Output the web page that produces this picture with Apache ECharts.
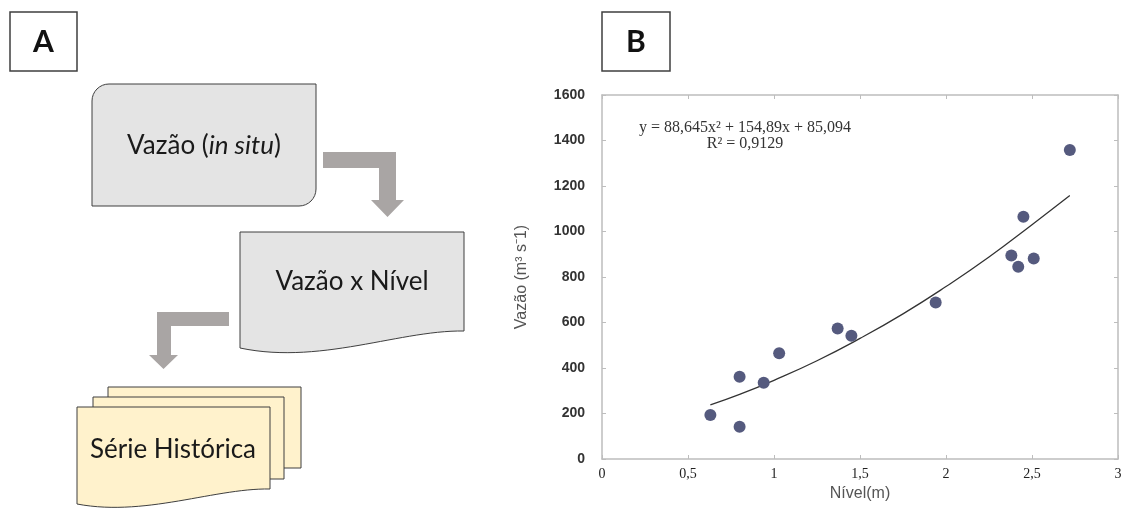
<!DOCTYPE html>
<html>
<head>
<meta charset="utf-8" />
<script src="https://cdn.jsdelivr.net/npm/echarts/dist/echarts.min.js"></script>
<style>
  html, body { margin: 0; padding: 0; background: #fff; }
  #chart { width: 1130px; height: 509px; }
</style>
</head>
<body>
<div id="chart"></div>
<script>
// pontos medidos (nivel x vazao)
const nivel = [0.63, 0.8, 0.8, 0.94, 1.03, 1.37, 1.45, 1.94, 2.38, 2.42, 2.45, 2.51, 2.72];
const vazao = [193, 142, 362, 335, 465, 574, 542, 688, 895, 845, 1065, 881, 1358];

// curva de tendencia
const trendX = [0.63, 0.8, 1.0, 1.25, 1.5, 1.75, 2.0, 2.25, 2.5, 2.72];
const trendY = [238, 284, 346, 432, 530, 638, 758, 888, 1030, 1158];

// rotulos dos eixos
const xTicks = [0, 0.5, 1, 1.5, 2, 2.5, 3];
const xTickLabels = ["0", "0,5", "1", "1,5", "2", "2,5", "3"];
const yTickLabels = ["0", "200", "400", "600", "800", "1000", "1200", "1400", "1600"];

const eqLines = ["y = 88,645x² + 154,89x + 85,094", "R² = 0,9129"];

const chart = echarts.init(document.getElementById("chart"));

const scatterData = nivel.map((x, i) => [x, vazao[i]]);
const trendData = trendX.map((x, i) => [x, trendY[i]]);

const boxStroke = "#3f3f3f";
const arrowColor = "#a9a5a4";
const uiFont = "Lato, 'Open Sans', sans-serif";
const serif = "'Liberation Serif', 'Times New Roman', serif";
const axisGray = "#bdbdbd";

// forma de "documento": retangulo com base ondulada (bezier cubica amostrada)
const docShape = (x0, y0, x1, yRight, c1, c2, yLeft) => {
  const pts = [[x0, y0], [x1, y0], [x1, yRight]];
  const p0 = [x1, yRight], p3 = [x0, yLeft];
  for (let k = 1; k <= 30; k++) {
    const t = k / 30, u = 1 - t;
    pts.push([
      u * u * u * p0[0] + 3 * u * u * t * c1[0] + 3 * u * t * t * c2[0] + t * t * t * p3[0],
      u * u * u * p0[1] + 3 * u * u * t * c1[1] + 3 * u * t * t * c2[1] + t * t * t * p3[1],
    ]);
  }
  return pts;
};

const frameAxis = {
  axisLine: { show: true, onZero: false, lineStyle: { color: axisGray, width: 1.5 } },
  axisTick: { show: true, inside: true, length: 4, lineStyle: { color: axisGray } },
  splitLine: { show: false },
};

let option = {
  animation: false,
  backgroundColor: "#fff",
  grid: { left: 602, top: 95, width: 516, height: 364 },
  xAxis: [
    {
      type: "value",
      min: 0,
      max: 3,
      interval: 0.5,
      name: "Nível(m)",
      nameLocation: "middle",
      nameGap: 27,
      nameTextStyle: { fontFamily: "'Liberation Sans', Arial", fontSize: 16, color: "#555" },
      ...frameAxis,
      axisLabel: {
        margin: 8,
        fontFamily: serif,
        fontSize: 14,
        color: "#222",
        formatter: (v) => xTickLabels[xTicks.indexOf(v)] ?? "",
      },
    },
    {
      type: "value",
      position: "top",
      min: 0,
      max: 3,
      interval: 0.5,
      ...frameAxis,
      axisLabel: { show: false },
    },
  ],
  yAxis: [
    {
      type: "value",
      min: 0,
      max: 1600,
      interval: 200,
      name: "Vazão (m³ s⁻1)",
      nameLocation: "middle",
      nameGap: 72,
      nameTextStyle: { fontFamily: "'Liberation Sans', Arial", fontSize: 16, color: "#555" },
      ...frameAxis,
      axisLabel: {
        margin: 17,
        fontFamily: "'Liberation Sans', Arial",
        fontSize: 14,
        fontWeight: "bold",
        color: "#333",
        formatter: (v) => yTickLabels[v / 200] ?? "",
      },
    },
    {
      type: "value",
      position: "right",
      min: 0,
      max: 1600,
      interval: 200,
      ...frameAxis,
      axisLabel: { show: false },
    },
  ],
  series: [
    {
      name: "tendencia",
      type: "line",
      data: trendData,
      smooth: true,
      showSymbol: false,
      lineStyle: { color: "#333", width: 1.3 },
      z: 2,
    },
    {
      name: "medidas",
      type: "scatter",
      data: scatterData,
      symbolSize: 12,
      itemStyle: { color: "#555a7e", opacity: 1 },
      z: 3,
    },
  ],
  graphic: [
    // rotulos A e B
    { type: "rect", shape: { x: 10, y: 12, width: 67, height: 59 }, style: { fill: "#fff", stroke: boxStroke, lineWidth: 1.5 } },
    { type: "text", x: 43.5, y: 42, style: { text: "A", align: "center", verticalAlign: "middle", fontFamily: uiFont, fontWeight: "bold", fontSize: 30, fill: "#111" } },
    { type: "rect", shape: { x: 602, y: 12, width: 68, height: 59 }, style: { fill: "#fff", stroke: boxStroke, lineWidth: 1.5 } },
    { type: "text", x: 636, y: 42, style: { text: "B", align: "center", verticalAlign: "middle", fontFamily: uiFont, fontWeight: "bold", fontSize: 30, fill: "#111" } },

    // caixa 1
    { type: "rect", shape: { x: 92, y: 84, width: 224, height: 122, r: [17, 0, 17, 0] }, style: { fill: "#e4e4e4", stroke: boxStroke, lineWidth: 1 } },
    {
      type: "text",
      x: 204,
      y: 146,
      style: {
        text: "{n|Vazão (}{i|in situ}{n|)}",
        align: "center",
        verticalAlign: "middle",
        rich: {
          n: { fontFamily: uiFont, fontSize: 26, fill: "#1a1a1a" },
          i: { fontFamily: uiFont, fontSize: 26, fontStyle: "italic", fill: "#1a1a1a" },
        },
      },
    },
    // seta 1
    {
      type: "polygon",
      shape: { points: [[323, 152], [396, 152], [396, 200], [404, 200], [387.5, 217], [371, 200], [379, 200], [379, 168], [323, 168]] },
      style: { fill: arrowColor },
    },

    // caixa 2 (documento)
    {
      type: "polygon",
      shape: { points: docShape(240, 232, 464, 331, [400, 330], [320, 365], 348) },
      style: { fill: "#e4e4e4", stroke: boxStroke, lineWidth: 1 },
    },
    { type: "text", x: 352, y: 282, style: { text: "Vazão x Nível", align: "center", verticalAlign: "middle", fontFamily: uiFont, fontSize: 26, fill: "#1a1a1a" } },

    // seta 2
    {
      type: "polygon",
      shape: { points: [[229, 312], [157, 312], [157, 355], [149, 355], [163.5, 369], [178, 355], [171, 355], [171, 326], [229, 326]] },
      style: { fill: arrowColor },
    },

    // multiplos documentos
    { type: "rect", shape: { x: 108, y: 387, width: 193, height: 81 }, style: { fill: "#fff2cc", stroke: boxStroke, lineWidth: 1 } },
    { type: "rect", shape: { x: 93, y: 397, width: 191, height: 82 }, style: { fill: "#fff2cc", stroke: boxStroke, lineWidth: 1 } },
    {
      type: "polygon",
      shape: { points: docShape(77, 407, 270, 489, [215, 488], [145, 517], 504) },
      style: { fill: "#fff2cc", stroke: boxStroke, lineWidth: 1 },
    },
    { type: "text", x: 173, y: 450, style: { text: "Série Histórica", align: "center", verticalAlign: "middle", fontFamily: uiFont, fontSize: 26, fill: "#1a1a1a" } },

    // equacao da curva
    { type: "text", x: 745, y: 128, style: { text: eqLines[0], align: "center", verticalAlign: "middle", fontFamily: serif, fontSize: 16, fill: "#333" } },
    { type: "text", x: 745, y: 144, style: { text: eqLines[1], align: "center", verticalAlign: "middle", fontFamily: serif, fontSize: 16, fill: "#333" } },
  ],
};

option && chart.setOption(option);
</script>
</body>
</html>
